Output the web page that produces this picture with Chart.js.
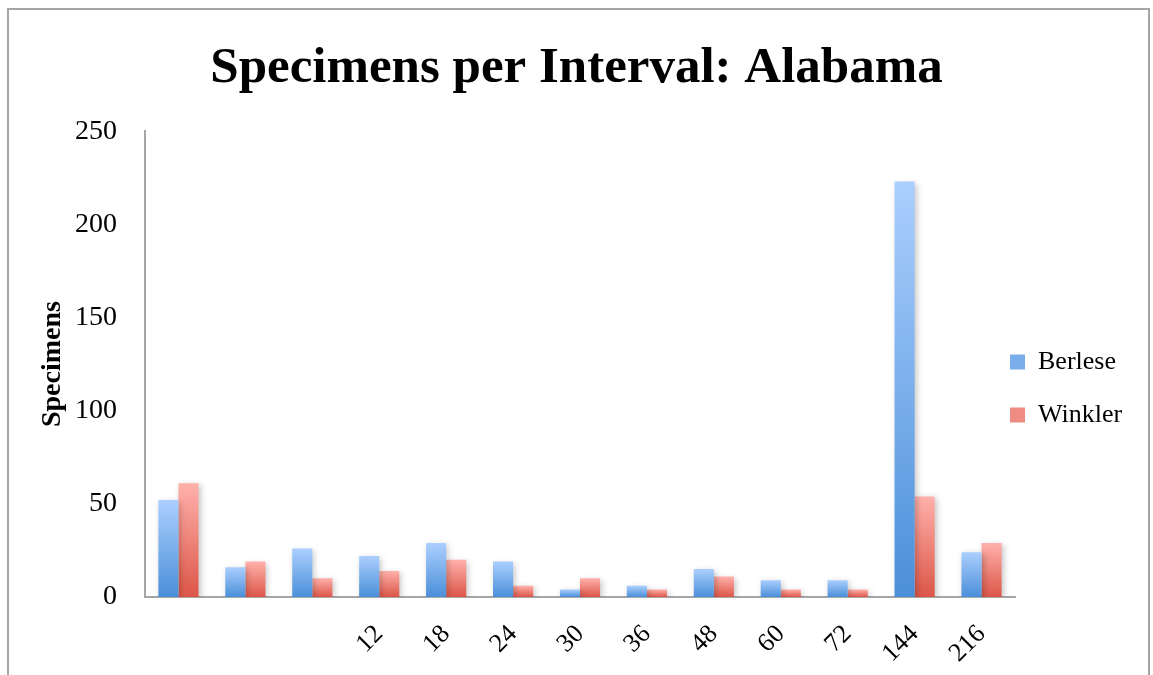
<html>
<head>
<style>
body{margin:0;background:#fff;}
.frame{position:absolute;left:7px;top:8px;width:1139px;height:700px;border:2px solid #a6a6a6;border-bottom:none;}
.chart-wrapper{position:absolute;left:0;top:0;width:1153px;height:675px;}
</style>
</head>
<body>
<div class="frame"></div>
<div class="chart-wrapper"><canvas id="specimens"></canvas></div>

<script src="https://cdn.jsdelivr.net/npm/chart.js@4"></script>
<script>
// Specimen counts per sampling interval
var intervals = ['', '', '', '12', '18', '24', '30', '36', '48', '60', '72', '144', '216'];
var berlese = [52, 16, 26, 22, 29, 19, 4, 6, 15, 9, 9, 223, 24];
var winkler = [61, 19, 10, 14, 20, 6, 10, 4, 11, 4, 4, 54, 29];
var yTicks = [0, 50, 100, 150, 200, 250];

var serif = 'Liberation Serif';

// vertical gradient per bar, light at the top and dark at the base
function barGradient(light, dark) {
   return function (c) {
      var chart = c.chart;
      if (!chart.chartArea || c.type !== 'data' || !chart.scales.y) return dark;
      var y = chart.scales.y;
      var top = y.getPixelForValue(c.raw);
      var bottom = y.getPixelForValue(0);
      if (!isFinite(top) || top === bottom) return dark;
      var g = chart.ctx.createLinearGradient(0, top, 0, bottom);
      g.addColorStop(0, light);
      g.addColorStop(1, dark);
      return g;
   };
}

// soft drop shadow under the bars
var barShadow = {
   id: 'barShadow',
   beforeDatasetsDraw: function (chart) {
      var ctx = chart.ctx;
      ctx.save();
      ctx.shadowColor = 'rgba(0,0,0,0.22)';
      ctx.shadowBlur = 6;
      ctx.shadowOffsetX = 2;
      ctx.shadowOffsetY = 2;
   },
   afterDatasetsDraw: function (chart) {
      chart.ctx.restore();
   }
};

// legend sits just right of the plot, a bit below centre
var legendPlace = {
   id: 'legendPlace',
   afterLayout: function (chart) {
      var lg = chart.legend;
      var h = lg.height;
      lg.left = 983;
      lg.right = chart.width;
      lg.width = lg.right - lg.left;
      lg.top = 322;
      lg.bottom = lg.top + h;
   }
};

var data = {
   labels: intervals,
   datasets: [
      {
         label: 'Berlese',
         data: berlese,
         backgroundColor: barGradient('#abcffe', '#4b8fd9'),
         legendColor: '#79aeea'
      },
      {
         label: 'Winkler',
         data: winkler,
         backgroundColor: barGradient('#ffb1ab', '#dc5648'),
         legendColor: '#ee8b82'
      }
   ]
};

var context = document.getElementById('specimens').getContext('2d');
var myChart = new Chart(context, {
   type: 'bar',
   data: data,
   plugins: [barShadow, legendPlace],
   options: {
      responsive: true,
      maintainAspectRatio: false,
      animation: false,
      categoryPercentage: 0.6,
      barPercentage: 1.0,
      layout: { padding: 0 },
      plugins: {
         tooltip: { enabled: false },
         title: {
            display: true,
            text: 'Specimens per Interval: Alabama',
            color: '#000',
            font: { family: serif, size: 51, weight: 'bold' },
            padding: { top: 38, bottom: 32 }
         },
         legend: {
            position: 'right',
            align: 'start',
            maxWidth: 138,
            labels: {
               color: '#000',
               font: { family: serif, size: 26 },
               boxWidth: 15,
               boxHeight: 15,
               padding: 27,
               generateLabels: function (chart) {
                  return chart.data.datasets.map(function (ds, i) {
                     return {
                        text: ds.label,
                        fillStyle: ds.legendColor,
                        strokeStyle: ds.legendColor,
                        lineWidth: 0,
                        datasetIndex: i
                     };
                  });
               }
            }
         }
      },
      scales: {
         x: {
            afterFit: function (axis) { axis.height = 78; },
            grid: { display: false },
            border: { display: true, color: '#a6a6a6', width: 2 },
            ticks: {
               color: '#000',
               font: { family: serif, size: 26 },
               minRotation: 45,
               maxRotation: 45,
               padding: 14,
               autoSkip: false
            }
         },
         y: {
            min: 0,
            max: yTicks[yTicks.length - 1],
            afterFit: function (axis) { axis.width = 145; },
            afterBuildTicks: function (axis) {
               axis.ticks = yTicks.map(function (v) { return { value: v }; });
            },
            grid: { display: false },
            border: { display: true, color: '#a6a6a6', width: 2 },
            title: {
               display: true,
               text: 'Specimens',
               color: '#000',
               font: { family: serif, size: 28, weight: 'bold' },
               padding: { top: 36, bottom: 4 }
            },
            ticks: {
               color: '#000',
               font: { family: serif, size: 28 },
               padding: 20
            }
         }
      }
   }
});
</script>
</body>
</html>
